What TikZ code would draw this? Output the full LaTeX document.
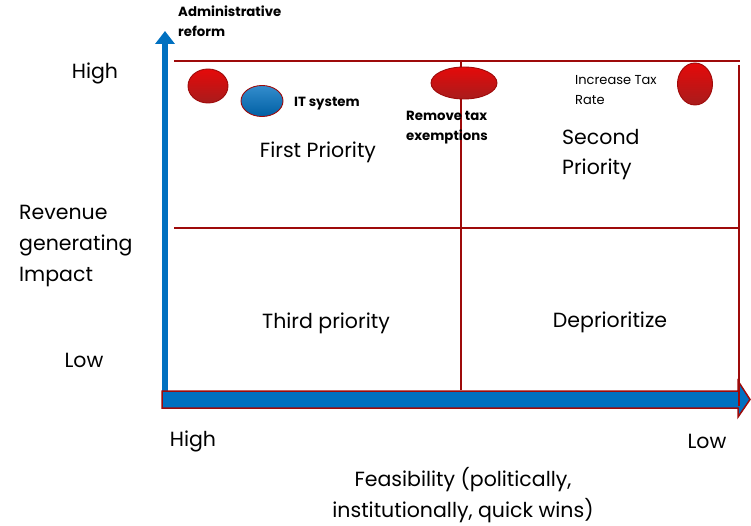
\documentclass[tikz,border=0pt]{standalone}
\usepackage{fontspec}
\setmainfont{Poppins}
\usetikzlibrary{shapes.geometric,arrows.meta}
\definecolor{AX}{HTML}{0070C0}
\definecolor{GR}{HTML}{9E0A0A}
\definecolor{RB}{HTML}{E50A0A}
\definecolor{RD}{HTML}{A81C1C}

\tikzset{
  grid line/.style={GR, line width=1.6pt},
  blob/.style={ellipse, draw=GR, line width=0.9pt, inner sep=0pt,
               top color=RB, bottom color=RD},
  quad/.style={font=\fontsize{20.5}{30}\selectfont, inner sep=0pt, align=left},
  tag/.style={font=\fontsize{13.3}{19.5}\selectfont\bfseries, inner sep=0pt, align=left},
  axis text/.style={font=\fontsize{20.5}{31}\selectfont, inner sep=0pt, align=left}
}

\begin{document}
\begin{tikzpicture}[x=1pt, y=-1pt]

        \useasboundingbox (0,0) rectangle (751,526);

        %% ── quadrant grid ─────────────────────────────
        \draw[grid line] (174,61) -- (740,61);
        \draw[grid line] (174,228) -- (740,228);
        \draw[grid line] (461,61) -- (461,390);

        %% ── vertical axis (impact) ────────────────────
        \coordinate (vbot) at (165,392);
        \coordinate (vtop) at (165,31);
        \draw[AX, line width=6pt, -{Triangle[width=19pt, length=13pt]}]
          (vbot) -- (vtop);

        %% ── horizontal axis (feasibility) ─────────────
        \filldraw[fill=AX, draw=GR, line width=1.5pt]
          (162,391) -- (738,391) -- (738,381) -- (750,399.5)
          -- (738,417) -- (738,408) -- (162,408) -- cycle;
        \draw[grid line] (739,65) -- (739,406);

        %% ── measures ──────────────────────────────────
        \node[blob, minimum width=40pt, minimum height=34pt] (admin) at (208,86) {};
        \node[blob, minimum width=42pt, minimum height=31pt,
              top color=AX!80!white, bottom color=AX!85!black] (itsys) at (262,101) {};
        \node[blob, minimum width=66pt, minimum height=32pt] (exempt) at (464,83) {};
        \node[blob, minimum width=35pt, minimum height=42pt] (taxrate) at (695,84) {};

        \node[tag, anchor=north west] (adminlbl) at (178,6) {Administrative\\reform};
        \node[tag, anchor=west] (itlbl) at (294,104) {IT system};
        \node[tag, anchor=north west] (exemptlbl) at (406,111) {Remove tax\\exemptions};
        \node[anchor=north west, inner sep=0pt, align=left,
              font=\fontsize{13}{20}\selectfont] (ratelbl) at (575,75) {Increase Tax\\Rate};

        %% ── quadrant names ────────────────────────────
        \node[quad] (first) at (318,152) {First Priority};
        \node[quad, anchor=north west] (second) at (562,129) {Second\\Priority};
        \node[quad] (third) at (326,323) {Third priority};
        \node[quad] (depri) at (610,322) {Deprioritize};

        %% ── axis labels ───────────────────────────────
        \node[axis text] (yhigh) at (95,73) {High};
        \node[axis text] (ylow) at (84,360) {Low};
        \node[axis text, anchor=west] (ytitle) at (19,246) {Revenue\\generating\\Impact};
        \node[axis text] (xhigh) at (193,441) {High};
        \node[axis text] (xlow) at (707,441) {Low};
        \node[axis text, align=center] (xtitle) at (463,495)
          {Feasibility (politically,\\institutionally, quick wins)};

\end{tikzpicture}
\end{document}
